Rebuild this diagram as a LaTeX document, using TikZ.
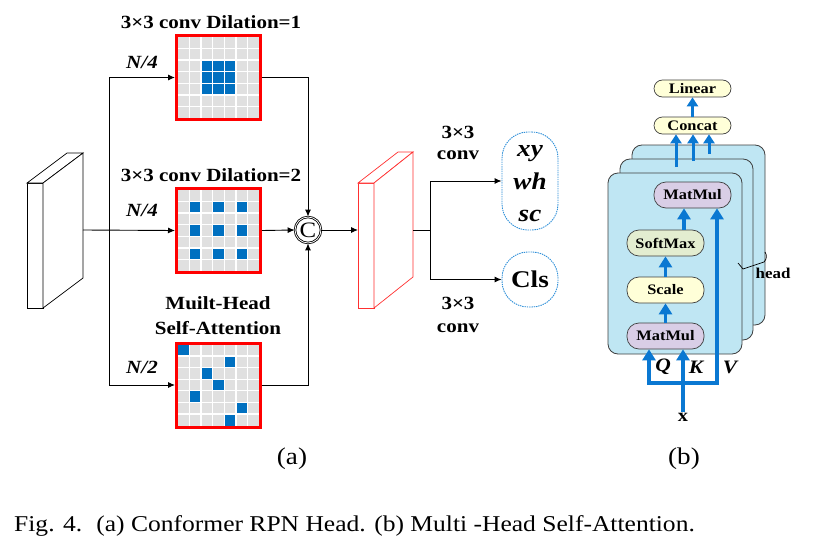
\documentclass[tikz,border=0pt]{standalone}
\usepackage{fontspec}
\setmainfont{Liberation Serif}[FakeStretch=1.13]
\usetikzlibrary{arrows.meta,calc}
\definecolor{cellgray}{HTML}{E0E0E0}
\definecolor{cellblue}{HTML}{0070C0}
\definecolor{arrblue}{HTML}{0A78D2}
\definecolor{boxblue}{HTML}{BFE6F3}
\definecolor{pillyellow}{HTML}{FFFFD8}
\definecolor{pillgreen}{HTML}{E3EDD0}
\definecolor{pillpurple}{HTML}{D9CEE6}
\definecolor{dashblue}{HTML}{2E8FD8}
\definecolor{edgegray}{HTML}{3F3F3F}
\definecolor{slabred}{HTML}{FF3030}
\newcommand{\fsz}[1]{\fontsize{#1}{#1}\selectfont}
\newcommand{\drawgrid}[4]{%
 \begin{scope}[shift={(#2,#3)}]
  \fill[cellgray] (-40.5,-40.5) rectangle (40.5,40.5);
  \foreach \r/\c in {#4} {\fill[cellblue] ({-40.5+\c*81/7},{-40.5+\r*81/7}) rectangle ++({81/7},{81/7});}
  \foreach \i in {1,...,6} {
    \draw[white,line width=1.3pt] ({-40.5+\i*81/7},-40.5) -- ++(0,81);
    \draw[white,line width=1.3pt] (-40.5,{-40.5+\i*81/7}) -- ++(81,0);
  }
 \end{scope}
 \node[gridbox] (#1) at (#2,#3) {};
}
\begin{document}
\begin{tikzpicture}[x=1pt,y=-1pt,
 arr/.style={-{Latex[length=7pt,width=6pt]}, line width=0.9pt},
 ln/.style={line width=0.9pt},
 title/.style={font=\fsz{18.6}\bfseries, inner sep=0},
 lab/.style={font=\fsz{18.6}\bfseries\itshape, inner sep=0},
 gridbox/.style={draw=red, line width=3pt, minimum size=84pt, inner sep=0},
 outbox/.style={draw=dashblue, dash pattern=on 1.4pt off 0.9pt, line width=0.9pt, rounded corners=26pt, minimum width=56pt, inner sep=0},
 headbox/.style={draw=edgegray, fill=boxblue, line width=0.8pt, rounded corners=10pt, inner sep=0},
 pill/.style={draw=edgegray, line width=0.7pt, rounded corners=12pt, minimum width=77pt, minimum height=26pt, inner sep=0, font=\fsz{14.5}\bfseries},
 tpill/.style={pill, minimum height=17pt, rounded corners=8.5pt, fill=pillyellow},
 barr/.style={draw=arrblue, line width=3.5pt, -{Triangle[length=11pt,width=13pt]}},
 sarr/.style={draw=arrblue, line width=3pt, -{Triangle[length=9pt,width=11pt]}},
 slab/.style={line width=0.7pt, fill=white},
]
\useasboundingbox (0,0) rectangle (817,551);

% ---------- (a) ----------
% input slab
\draw[slab] (27,183) rectangle (43,308);
\draw[slab] (27,183) -- (67,153) -- (83,153) -- (43,183) -- cycle;
\draw[slab] (43,183) -- (83,153) -- (83,278) -- (43,308) -- cycle;
\coordinate (inR) at (83,230);
\coordinate (split) at (109,230);

% grids
\drawgrid{g1}{218.5}{77.5}{2/2,2/3,2/4,3/2,3/3,3/4,4/2,4/3,4/4}
\drawgrid{g2}{218.5}{230.5}{1/1,1/3,1/5,3/1,3/3,3/5,5/1,5/3,5/5}
\drawgrid{g3}{218.5}{385}{0/0,1/4,2/2,3/3,4/1,5/5,6/4}

\node[title] (t1) at (211,22) {3×3 conv Dilation=1};
\node[title] (t2) at (211,175) {3×3 conv Dilation=2};
\node[title] (t3a) at (218,303) {Muilt-Head};
\node[title] (t3b) at (218,328) {Self-Attention};
\node[lab] (n1) at (142,62) {N/4};
\node[lab] (n2) at (142,210) {N/4};
\node[lab] (n3) at (142,367) {N/2};

% concat circle
\node[circle, draw, line width=0.8pt, double, double distance=0.8pt, minimum size=26pt, inner sep=0, font=\fsz{22}] (cc) at (308,230) {C};

% connectors
\draw[arr] (inR) -- (g2.west);
\draw[arr] (split) |- (g1.west);
\draw[arr] (split) |- (g3.west);
\draw[arr] (g1.east) -| (cc.north);
\draw[arr] (g2.east) -- (cc.west);
\draw[arr] (g3.east) -| (cc.south);

% red slab
\draw[slab, draw=slabred] (358,183) rectangle (374,308);
\draw[slab, draw=slabred] (358,183) -- (398,152) -- (413,152) -- (374,183) -- cycle;
\draw[slab, draw=slabred] (374,183) -- (413,152) -- (413,277) -- (374,308) -- cycle;
\coordinate (rsL) at (358,230);
\coordinate (rsR) at (413,230);
\coordinate (fork) at (430,230);
\draw[arr] (cc.east) -- (rsL);

% outputs
\node[outbox, minimum height=98pt] (o1) at (530,181) {};
\node[font=\fsz{24}\bfseries\itshape, anchor=base, inner sep=0] (oxy) at (530,156) {xy};
\node[font=\fsz{24}\bfseries\itshape, anchor=base, inner sep=0] (owh) at (530,189) {wh};
\node[font=\fsz{24}\bfseries\itshape, anchor=base, inner sep=0] (osc) at (530,221) {sc};
\node[outbox, minimum height=55pt, font=\fsz{24}\bfseries] (o2) at (530,279.5) {Cls};
\draw[ln] (rsR) -- (fork);
\draw[arr] (fork) |- (o1.west);
\draw[arr] (fork) |- (o2.west);
\node[title] (c1a) at (458,132) {3×3};
\node[title] (c1b) at (458,155) {conv};
\node[title] (c2a) at (458,303) {3×3};
\node[title] (c2b) at (458,328) {conv};

\node[font=\fsz{24}] (la) at (292,459) {(a)};

% ---------- (b) ----------
\node[headbox, minimum width=133pt, minimum height=180pt] (hb3) at (698.5,235) {};
\node[headbox, minimum width=133pt, minimum height=181pt] (hb2) at (686.5,249.5) {};
\node[headbox, minimum width=134pt, minimum height=181pt] (hb1) at (675,263.5) {};

\node[tpill] (lin) at (692.5,88.5) {Linear};
\node[tpill] (cat) at (692.5,125.5) {Concat};
\node[pill, fill=pillpurple] (mm1) at (692.5,195) {MatMul};
\node[pill, fill=pillgreen] (sm) at (665.5,243) {SoftMax};
\node[pill, fill=pillyellow] (sc) at (665.5,290) {Scale};
\node[pill, fill=pillpurple] (mm2) at (665.5,336) {MatMul};

\draw[sarr] (cat.north) -- (lin.south);
\coordinate (ca) at (676,167);
\coordinate (cb) at (693,161);
\coordinate (cd) at (709,154);
\draw[sarr] (ca) -- (ca |- cat.south);
\draw[sarr] (cb) -- (cb |- cat.south);
\draw[sarr] (cd) -- (cd |- cat.south);

\coordinate (smA) at ($(sm.north)+(18.5,0)$);
\draw[barr] (smA) -- (smA |- mm1.south);
\draw[barr] (sc.north) -- (sm.south);
\draw[barr] (mm2.north) -- (sc.south);

\coordinate (qb) at (649,383);
\coordinate (vb) at (717,383);
\node[font=\fsz{18}\bfseries, inner sep=1pt] (xin) at (683,417) {x};
\draw[draw=arrblue, line width=3.5pt, line join=miter, {Triangle[length=11pt,width=13pt]}-{Triangle[length=11pt,width=13pt]}] (qb |- mm2.south) -- (qb) -- (vb) -- (vb |- mm1.south);
\draw[barr] (xin.north) -- (xin.north |- mm2.south);

\node[font=\fsz{19}\bfseries\itshape, inner sep=0] (lq) at (663,367) {Q};
\node[font=\fsz{19}\bfseries\itshape, inner sep=0] (lk) at (696,367) {K};
\node[font=\fsz{19}\bfseries\itshape, inner sep=0] (lv) at (730,367) {V};

\draw[line width=0.7pt] (738,263) -- (743,269) -- (764,262) .. controls (767,259) and (767,255) .. (765,252);
\node[font=\fsz{15}\bfseries, inner sep=0] (hd) at (773,273) {head};

\node[font=\fsz{24}] (lb) at (684,459) {(b)};

% caption
\node[font=\fsz{22.6}, anchor=base west, inner sep=0] (cap) at (14,531) {Fig. 4.\hspace{14pt}(a) Conformer RPN Head. (b) Multi -Head Self-Attention.};
\end{tikzpicture}
\end{document}
